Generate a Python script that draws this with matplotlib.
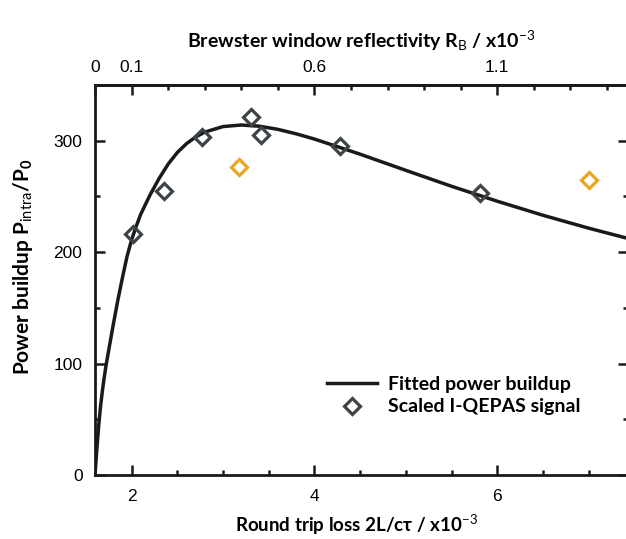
import matplotlib
matplotlib.use("Agg")
import matplotlib.pyplot as plt
from matplotlib.lines import Line2D
from matplotlib.ticker import FixedLocator, MultipleLocator

# Fitted power buildup curve (round trip loss in 1e-3, buildup factor)
loss_fit = [1.60, 1.62, 1.64, 1.66, 1.68, 1.70, 1.72, 1.75, 1.80, 1.85, 1.90, 1.95, 2.00,
            2.05, 2.10, 2.20, 2.30, 2.40, 2.50, 2.60, 2.70, 2.80, 3.00, 3.20, 3.40, 3.60,
            3.80, 4.00, 4.50, 5.00, 5.50, 6.00, 6.50, 7.00, 7.43]
buildup_fit = [0.0, 23.0, 44.0, 61.0, 75.0, 87.0, 98.0, 112.0, 135.0, 157.0, 177.0, 196.0, 211.0,
               223.0, 234.0, 251.0, 266.0, 279.0, 289.4, 297.3, 303.3, 307.7, 312.7, 314.1, 313.0, 310.2,
               306.2, 301.5, 287.9, 273.4, 259.1, 245.7, 233.1, 221.5, 212.3]

# Scaled I-QEPAS signal
signal_loss = [2.02, 2.35, 2.77, 3.31, 3.42, 4.28, 5.81]
signal_val = [216, 255, 303, 321, 305, 295, 253]
# points left out of the fit
outlier_loss = [3.17, 7.00]
outlier_val = [276, 265]

# top axis: Brewster window reflectivity
rb_major = [0, 0.1, 0.6, 1.1]
rb_minor = [0.2, 0.3, 0.4, 0.5, 0.7, 0.8, 0.9, 1.0, 1.2, 1.3, 1.4]

dark = "#3d4347"
orange = "#eaa521"
ink = "#1a1a1a"

plt.rcParams["font.family"] = ["Liberation Sans", "DejaVu Sans"]
plt.rcParams["mathtext.fontset"] = "custom"
plt.rcParams["mathtext.rm"] = "Lato"
plt.rcParams["mathtext.bf"] = "Lato:bold"
plt.rcParams["mathtext.it"] = "Lato:italic"
lab_family = ["Lato", "DejaVu Sans"]

fig = plt.figure(figsize=(6.26, 5.39), dpi=100)
ax = fig.add_axes([95 / 626, 64 / 539, 533 / 626, 390 / 539])

ax.plot(loss_fit, buildup_fit, color=ink, lw=2.5, zorder=2)
ax.plot(signal_loss, signal_val, ls="none", marker="D", ms=8.5, mfc="none",
        mec=dark, mew=2.3, zorder=3)
ax.plot(outlier_loss, outlier_val, ls="none", marker="D", ms=8.5, mfc="none",
        mec=orange, mew=2.3, zorder=3)

ax.set_xlim(1.6, 7.43)
ax.set_ylim(0, 350)
ax.xaxis.set_major_locator(FixedLocator([2, 4, 6]))
ax.xaxis.set_minor_locator(FixedLocator([2.5, 3, 3.5, 4.5, 5, 5.5, 6.5, 7]))
ax.yaxis.set_major_locator(MultipleLocator(100))
ax.yaxis.set_minor_locator(MultipleLocator(50))

for s in ax.spines.values():
    s.set_linewidth(2.0)
    s.set_color(ink)
ax.tick_params(which="both", direction="in", width=1.8, color=ink,
               labelsize=12.5, top=False, right=True, labelright=False)
ax.tick_params(which="major", length=7)
ax.tick_params(which="minor", length=3.5)
ax.tick_params(axis="x", which="major", pad=10)
ax.tick_params(axis="y", which="major", pad=9)

ax.set_xlabel("Round trip loss 2L/cτ / x10$^{-3}$", family=lab_family,
              weight="bold", size=13.5)
ax.xaxis.set_label_coords(0.49, -0.098)
ax.set_ylabel("Power buildup P$_\\mathrm{intra}$/P$_\\mathbf{0}$", family=lab_family,
              weight="bold", size=15)
ax.yaxis.set_label_coords(-0.112, 0.535)

# Brewster reflectivity axis on top, linear in the round trip loss
top = ax.secondary_xaxis("top", functions=(lambda x: (x - 1.6) / 4, lambda r: 1.6 + 4 * r))
top.xaxis.set_major_locator(FixedLocator(rb_major))
top.xaxis.set_minor_locator(FixedLocator(rb_minor))
top.tick_params(which="both", direction="in", width=1.8, color=ink, labelsize=12.5)
top.tick_params(which="major", length=7, pad=7)
top.tick_params(which="minor", length=3.5)
top.spines["top"].set_linewidth(2.0)
top.set_xticklabels(["0", "0.1", "0.6", "1.1"])
top.set_xlabel("Brewster window reflectivity R$_\\mathrm{B}$ / x10$^{-3}$", labelpad=9,
               family=lab_family, weight="bold", size=14)

handles = [Line2D([], [], color=ink, lw=2.5),
           Line2D([], [], ls="none", marker="D", ms=8.5, mfc="none", mec=dark, mew=2.3)]
ax.legend(handles, ["Fitted power buildup", "Scaled I-QEPAS signal"], loc="center left",
          bbox_to_anchor=(0.435, 0.204), frameon=False, borderpad=0, borderaxespad=0,
          handlelength=2.6, handletextpad=0.57, labelspacing=0.3,
          prop=dict(family=lab_family, weight="bold", size=14))

fig.savefig("out.png", dpi=100)
